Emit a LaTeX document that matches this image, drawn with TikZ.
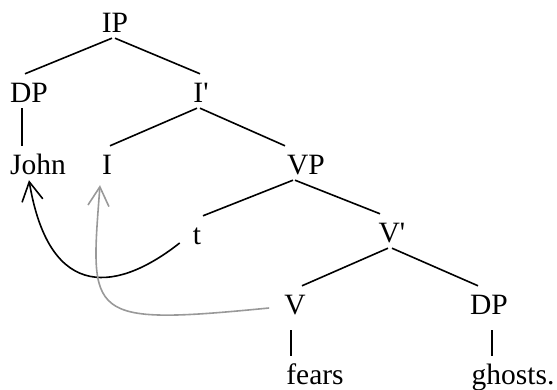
\documentclass[tikz,border=0pt]{standalone}
\usepackage{fontspec}
\setmainfont{Liberation Serif}[Ligatures=TeXOff]
\usepackage{xcolor}
\usepackage{tikz}
\usetikzlibrary{arrows.meta}

\begin{document}
\begin{tikzpicture}[
    x=1pt, y=1pt,
    cat/.style={anchor=base, inner sep=0pt, text height=29pt, text depth=5pt, font=\fontsize{29.5}{35}\selectfont},
    branch/.style={line width=1.6pt, draw=black},
    move/.style={-{Straight Barb[length=19pt, width=21pt]}, line width=1.6pt, draw=black},
    headmove/.style={move, draw=black!40}
]
\useasboundingbox (0,0) rectangle (557,390);

% Top Row: IP and its daughters
\node[cat] (ip) at (115,357) {IP};
\node[cat] (dpa) at (29,287) {DP};
\node[cat] (ibar) at (201,287) {I'};

% Middle Rows: subject, head and VP
\node[cat] (john) at (38,215) {John};
\node[cat] (infl) at (107,215) {I};
\node[cat] (vp) at (306,215) {VP};
\node[cat] (trace) at (197,145) {t};
\node[cat] (vbar) at (392,147) {V'};

% Bottom Rows: verb, object and words
\node[cat] (verb) at (295,75) {V};
\node[cat] (dpb) at (489,75) {DP};
\node[cat] (fears) at (315,5) {fears};
\node[cat] (ghosts) at (513,5) {ghosts.};

% Branches
\draw[branch] ([xshift=-3pt]ip.south) -- ([xshift=-4pt]dpa.north);
\draw[branch] (ip.south) -- ([xshift=-1pt]ibar.north);
\draw[branch] ([xshift=-7pt]dpa.south) -- ([xshift=-16pt]john.north);
\draw[branch] ([xshift=-4pt]ibar.south) -- ([xshift=3pt]infl.north);
\draw[branch] ([xshift=-1pt]ibar.south) -- ([xshift=-21pt]vp.north);
\draw[branch] ([xshift=-13pt]vp.south) -- ([xshift=6pt]trace.north);
\draw[branch] ([xshift=-11pt]vp.south) -- ([xshift=-12pt]vbar.north);
\draw[branch] ([xshift=-4pt]vbar.south) -- ([xshift=7pt]verb.north);
\draw[branch] (vbar.south) -- ([xshift=-11pt]dpb.north);
\draw[branch] ([xshift=-4pt,yshift=-10pt]verb.south) -- ([xshift=-24pt]fears.north);
\draw[branch] ([xshift=3pt,yshift=-10pt]dpb.south) -- ([xshift=-21pt]ghosts.north);

% Movement arrows
\draw[move] ([xshift=-13pt,yshift=2pt]trace.base west) .. controls (120,100) and (50,85) .. ([xshift=-9pt]john.south);
\draw[headmove] ([xshift=-15pt,yshift=7pt]verb.base west) .. controls (85,64) and (90,72) .. ([xshift=-7pt,yshift=-5pt]infl.south);

\end{tikzpicture}
\end{document}
